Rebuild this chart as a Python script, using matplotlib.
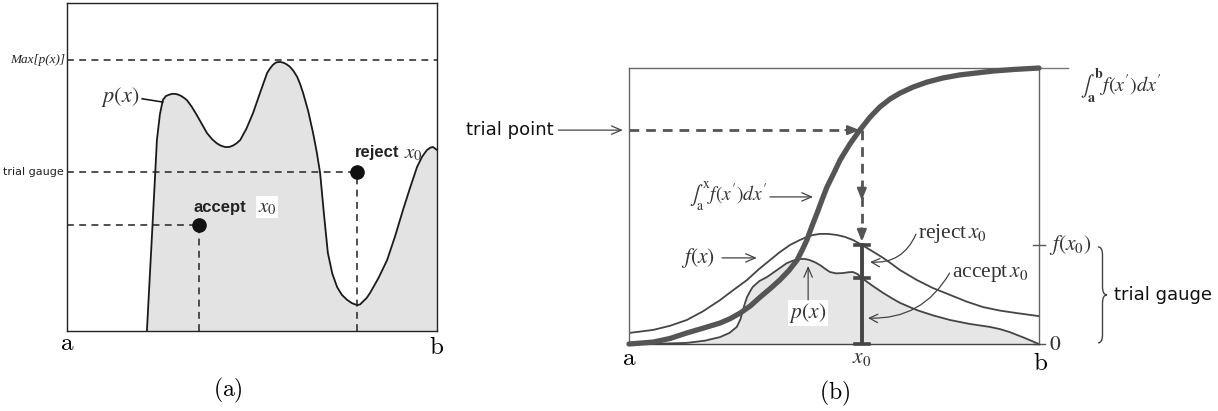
import matplotlib.pyplot as plt
from matplotlib.path import Path
from matplotlib.patches import PathPatch

plt.rcParams['mathtext.fontset'] = 'cm'

# ---- (a) p(x): x from a (0) to b (1), y from 0 to box top (1)
pa_x = [0.216, 0.223, 0.230, 0.237, 0.243, 0.251, 0.259, 0.267, 0.275, 0.284, 0.292,
        0.300, 0.308, 0.316, 0.324, 0.337, 0.350, 0.364, 0.378, 0.392, 0.405, 0.416,
        0.427, 0.438, 0.448, 0.458, 0.468, 0.485, 0.503, 0.522, 0.541, 0.549, 0.557,
        0.564, 0.570, 0.578, 0.587, 0.595, 0.603, 0.612, 0.622, 0.630, 0.638, 0.652,
        0.665, 0.675, 0.684, 0.695, 0.705, 0.717, 0.730, 0.743, 0.757, 0.770, 0.784,
        0.792, 0.800, 0.810, 0.819, 0.842, 0.865, 0.887, 0.908, 0.927, 0.946, 0.960,
        0.973, 0.982, 0.989, 1.000]
pa_y = [0.000, 0.150, 0.299, 0.450, 0.582, 0.660, 0.704, 0.716, 0.720, 0.723, 0.723,
        0.721, 0.717, 0.711, 0.704, 0.684, 0.660, 0.632, 0.604, 0.585, 0.572, 0.565,
        0.561, 0.561, 0.565, 0.572, 0.582, 0.617, 0.665, 0.727, 0.787, 0.801, 0.812,
        0.818, 0.820, 0.820, 0.817, 0.812, 0.805, 0.793, 0.775, 0.753, 0.726, 0.670,
        0.604, 0.545, 0.482, 0.350, 0.238, 0.175, 0.134, 0.110, 0.095, 0.085, 0.079,
        0.081, 0.090, 0.101, 0.116, 0.162, 0.216, 0.290, 0.369, 0.436, 0.500, 0.532,
        0.552, 0.559, 0.561, 0.552]
max_level = 0.826
gauge_level = 0.485
accept_x, accept_y = 0.357, 0.323
reject_x, reject_y = 0.784, 0.485

# ---- (b) cumulative, comparison function f(x) and p(x), x from a (0) to b (1)
cdf_x = [0.0, 0.059, 0.100, 0.141, 0.180, 0.222, 0.247, 0.271, 0.296, 0.320, 0.344,
         0.368, 0.390, 0.410, 0.422, 0.434, 0.446, 0.459, 0.471, 0.483, 0.500, 0.515,
         0.539, 0.563, 0.588, 0.612, 0.637, 0.661, 0.693, 0.727, 0.766, 0.807, 0.888,
         0.941, 1.0]
cdf_y = [0.0, 0.007, 0.020, 0.040, 0.057, 0.076, 0.092, 0.112, 0.138, 0.170, 0.200,
         0.232, 0.266, 0.304, 0.339, 0.377, 0.426, 0.475, 0.523, 0.569, 0.620, 0.667,
         0.725, 0.775, 0.822, 0.859, 0.888, 0.909, 0.931, 0.949, 0.964, 0.975, 0.989,
         0.995, 1.0]
f_x = [0.0, 0.059, 0.100, 0.141, 0.180, 0.222, 0.255, 0.288, 0.316, 0.344, 0.368,
       0.393, 0.417, 0.434, 0.449, 0.466, 0.485, 0.507, 0.527, 0.546, 0.568, 0.595,
       0.620, 0.641, 0.661, 0.702, 0.741, 0.783, 0.823, 0.863, 0.905, 0.946, 1.0]
f_y = [0.040, 0.051, 0.066, 0.087, 0.118, 0.159, 0.196, 0.232, 0.270, 0.304, 0.333,
       0.359, 0.377, 0.388, 0.395, 0.399, 0.399, 0.395, 0.388, 0.377, 0.359, 0.335,
       0.312, 0.290, 0.268, 0.232, 0.203, 0.178, 0.154, 0.134, 0.121, 0.112, 0.101]
pb_x = [0.0, 0.070, 0.141, 0.185, 0.222, 0.245, 0.263, 0.272, 0.278, 0.283, 0.288,
        0.295, 0.302, 0.318, 0.337, 0.361, 0.385, 0.400, 0.417, 0.430, 0.441, 0.454,
        0.466, 0.478, 0.490, 0.505, 0.522, 0.535, 0.546, 0.557, 0.568, 0.595, 0.620,
        0.641, 0.661, 0.702, 0.741, 0.783, 0.830, 0.880, 0.905, 0.929, 0.965, 1.0]
pb_y = [0.0, 0.001, 0.004, 0.012, 0.025, 0.040, 0.062, 0.090, 0.123, 0.148, 0.170,
        0.190, 0.207, 0.228, 0.243, 0.268, 0.293, 0.302, 0.308, 0.308, 0.304, 0.296,
        0.286, 0.273, 0.261, 0.256, 0.257, 0.260, 0.261, 0.254, 0.239, 0.210, 0.185,
        0.166, 0.149, 0.123, 0.104, 0.087, 0.073, 0.062, 0.054, 0.043, 0.022, 0.0]
x0 = 0.568
trial_u = 0.775
f_x0 = 0.359
p_x0 = 0.239

fig = plt.figure(figsize=(12.18, 4.11), dpi=100)

# ================= panel (a)
ax1 = fig.add_axes([0.0550, 0.1946, 0.3038, 0.7981])
ax1.set_xlim(0, 1)
ax1.set_ylim(0, 1)
ax1.set_xticks([])
ax1.set_yticks([])
for s in ax1.spines.values():
    s.set_color('#222')
    s.set_linewidth(1.0)

ax1.fill_between(pa_x, pa_y, 0, color='#e3e3e3', lw=0)
ax1.plot(pa_x, pa_y, color='#1a1a1a', lw=1.3)

dash = (0, (4.5, 3.5))
ax1.plot([0, 1], [max_level, max_level], ls=dash, color='#222', lw=1.1)
ax1.plot([0, reject_x], [gauge_level, gauge_level], ls=dash, color='#222', lw=1.1)
ax1.plot([0, accept_x], [accept_y, accept_y], ls=dash, color='#222', lw=1.1)
ax1.plot([accept_x, accept_x], [0, accept_y], ls=dash, color='#222', lw=1.1)
ax1.plot([reject_x, reject_x], [0, reject_y], ls=dash, color='#222', lw=1.1)
ax1.plot([accept_x, reject_x], [accept_y, reject_y], 'o', ms=9.5, color='#111', ls='none')

ax1.text(-0.006, max_level, 'Max[p(x)]', ha='right', va='center', fontsize=9.5,
         family='Liberation Serif', style='italic', color='#222')
ax1.text(-0.008, gauge_level, 'trial gauge', ha='right', va='center', fontsize=8,
         family='DejaVu Sans', color='#222')
ax1.text(0.197, 0.712, r'$p(x)$', ha='right', va='center', fontsize=16,
         math_fontfamily='stix', color='#333')
ax1.plot([0.203, 0.259], [0.708, 0.698], color='#111', lw=1.1)
ax1.text(0.341, 0.378, 'accept', ha='left', va='center', fontsize=12,
         family='Liberation Sans', weight='bold', color='#222')
ax1.text(0.516, 0.378, r'$x_0$', ha='left', va='center', fontsize=15,
         math_fontfamily='stix', color='#333',
         bbox=dict(facecolor='white', edgecolor='none', pad=1))
ax1.text(0.778, 0.543, 'reject', ha='left', va='center', fontsize=12,
         family='Liberation Sans', weight='bold', color='#222')
ax1.text(0.911, 0.543, r'$x_0$', ha='left', va='center', fontsize=15,
         math_fontfamily='stix', color='#333')
ax1.text(0.0, -0.035, r'$\mathrm{a}$', ha='center', va='center', fontsize=18)
ax1.text(1.0, -0.05, r'$\mathrm{b}$', ha='center', va='center', fontsize=18)
ax1.text(0.435, -0.18, r'$\mathrm{(a)}$', ha='center', va='center', fontsize=17)

# ================= panel (b)
ax2 = fig.add_axes([0.5164, 0.1630, 0.3366, 0.6715])
ax2.set_xlim(0, 1)
ax2.set_ylim(0, 1)
ax2.set_xticks([])
ax2.set_yticks([])
for s in ax2.spines.values():
    s.set_color('#666')
    s.set_linewidth(1.0)
ax2.spines['bottom'].set_color('#444')

gray = '#454545'
ax2.fill_between(pb_x, pb_y, 0, color='#e6e6e6', lw=0)
ax2.plot(f_x, f_y, color=gray, lw=1.3)
ax2.plot(pb_x, pb_y, color=gray, lw=1.3)
ax2.plot(cdf_x, cdf_y, color='#555', lw=3.8, clip_on=False, zorder=5,
         solid_capstyle='round')
ax2.plot([1.0, 1.07], [1.0, 1.0], color='#777', lw=1.0, clip_on=False)

# x0 bar with gauge marks
ax2.plot([x0, x0], [0, f_x0], color=gray, lw=2.8, zorder=6)
for yy in [0, p_x0, f_x0]:
    ax2.plot([x0 - 0.017, x0 + 0.017], [yy, yy], color=gray, lw=2.6, zorder=6,
             clip_on=False)

# dashed arrows from the trial point
dash2 = (0, (3.5, 2.5))
ax2.plot([0, x0 - 0.02], [trial_u, trial_u], ls=dash2, color='#555', lw=2.0)
ax2.plot([x0, x0], [trial_u, f_x0 + 0.03], ls=dash2, color='#555', lw=2.0)
head = dict(arrowstyle='-|>,head_length=0.7,head_width=0.28', color='#555', lw=1.6,
            shrinkA=0, shrinkB=0)
ax2.annotate('', xy=(x0 - 0.005, trial_u), xytext=(x0 - 0.04, trial_u), arrowprops=head)
ax2.annotate('', xy=(x0, 0.520), xytext=(x0, 0.570), arrowprops=head)
ax2.annotate('', xy=(x0, f_x0 + 0.012), xytext=(x0, f_x0 + 0.06), arrowprops=head)

thin = dict(arrowstyle='->,head_length=0.7,head_width=0.3', color='#444', lw=0.9,
            shrinkA=0, shrinkB=0)
tkw = dict(math_fontfamily='stix', color='#333')

# trial point
ax2.text(-0.185, trial_u, 'trial point', ha='right', va='center', fontsize=13,
         family='DejaVu Sans', color='#111')
ax2.annotate('', xy=(-0.015, trial_u), xytext=(-0.172, trial_u), arrowprops=thin,
             annotation_clip=False)

# cumulative label
ax2.text(0.337, 0.535, r"$\int_{\mathrm{a}}^{\mathrm{x}} f(x')dx'$", ha='right',
         va='center', fontsize=14, **tkw)
ax2.annotate('', xy=(0.449, 0.533), xytext=(0.344, 0.533), arrowprops=thin)

# f(x) label
ax2.text(0.21, 0.312, r'$f(x)$', ha='right', va='center', fontsize=15.5, **tkw)
ax2.annotate('', xy=(0.312, 0.312), xytext=(0.227, 0.312), arrowprops=thin)

# p(x) label
ax2.text(0.437, 0.112, r'$p(x)$', ha='center', va='center', fontsize=15.5,
         bbox=dict(facecolor='white', edgecolor='none', pad=1), **tkw)
ax2.annotate('', xy=(0.437, 0.283), xytext=(0.437, 0.160), arrowprops=thin)

# reject / accept labels with curved arrows
ax2.text(0.705, 0.402, r'reject$\,x_0$', ha='left', va='center', fontsize=15.5,
         family='Liberation Serif', **tkw)
ax2.annotate('', xy=(0.588, 0.297), xytext=(0.700, 0.398), arrowprops=dict(
    arrowstyle='->,head_length=0.6,head_width=0.3', color='#444', lw=0.9,
    shrinkA=0, shrinkB=0, connectionstyle='arc3,rad=-0.35'))
ax2.text(0.788, 0.257, r'accept$\,x_0$', ha='left', va='center', fontsize=15.5,
         family='Liberation Serif', **tkw)
ax2.annotate('', xy=(0.583, 0.094), xytext=(0.782, 0.257), arrowprops=dict(
    arrowstyle='->,head_length=0.6,head_width=0.3', color='#444', lw=0.9,
    shrinkA=0, shrinkB=0, connectionstyle='arc3,rad=-0.3'))

# right-hand scale
ax2.plot([0.985, 1.015], [f_x0, f_x0], color='#555', lw=1.0, clip_on=False)
ax2.plot([0.985, 1.015], [0, 0], color='#555', lw=1.0, clip_on=False)
ax2.text(1.025, f_x0, r'$f(x_0)$', ha='left', va='center', fontsize=15.5, **tkw)
ax2.text(1.025, 0.0, r'$0$', ha='left', va='center', fontsize=15.5, **tkw)
ax2.text(1.10, 0.935, r"$\int_{\mathbf{a}}^{\mathbf{b}} f(x')dx'$", ha='left',
         va='center', fontsize=14.5, **tkw)

# brace for the trial gauge
bx, d = 1.144, 0.011
yt, yb = f_x0 - 0.007, 0.004
ym = (yt + yb) / 2
e = 0.03
verts = [(bx, yt), (bx + d, yt), (bx + d, yt - e),
         (bx + d, ym + e), (bx + d, ym), (bx + 2 * d, ym),
         (bx + d, ym), (bx + d, ym - e),
         (bx + d, yb + e), (bx + d, yb), (bx, yb)]
codes = [Path.MOVETO, Path.CURVE3, Path.CURVE3,
         Path.LINETO, Path.CURVE3, Path.CURVE3,
         Path.CURVE3, Path.CURVE3,
         Path.LINETO, Path.CURVE3, Path.CURVE3]
ax2.add_patch(PathPatch(Path(verts, codes), fill=False, color='#444', lw=1.0,
                        clip_on=False))
ax2.text(1.182, ym, 'trial gauge', ha='left', va='center', fontsize=13,
         family='DejaVu Sans', color='#111')

ax2.text(0.0, -0.05, r'$\mathrm{a}$', ha='center', va='center', fontsize=18)
ax2.text(x0, -0.05, r'$x_0$', ha='center', va='center', fontsize=15.5, **tkw)
ax2.text(1.003, -0.07, r'$\mathrm{b}$', ha='center', va='center', fontsize=18)
ax2.text(0.502, -0.18, r'$\mathrm{(b)}$', ha='center', va='center', fontsize=17)

fig.savefig('out.png', dpi=100)
